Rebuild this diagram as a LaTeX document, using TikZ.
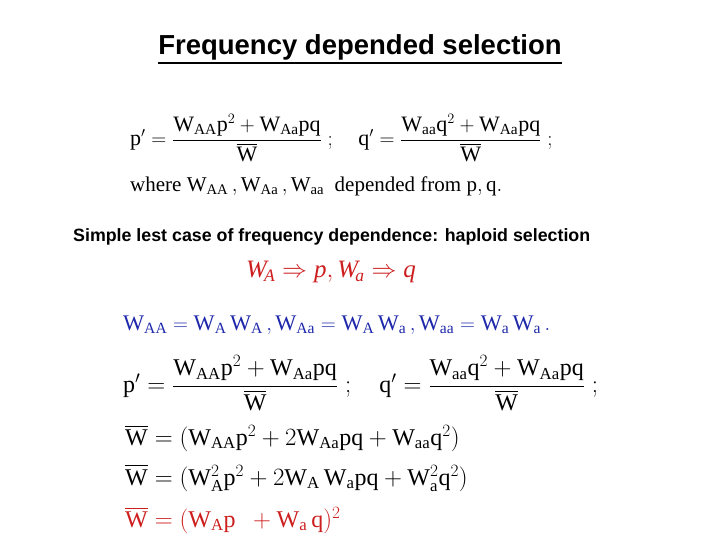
\documentclass[tikz,border=0pt]{standalone}
\usepackage{amsmath}
\usepackage{fontspec}
\setmainfont{Liberation Serif}
\newfontfamily\arial{Liberation Sans}
\definecolor{eqblue}{RGB}{30,40,170}
\definecolor{eqred}{RGB}{205,30,30}
\newcommand{\Wb}{\overline{\mathrm{W}}}
\newcommand{\Ws}[1]{\mathrm{W}_{\mathrm{#1}}}
\begin{document}
\begin{tikzpicture}[x=1pt,y=-1pt,
  eq/.style={anchor=west,inner sep=0pt,font=\fontsize{24}{28}\selectfont},
  head/.style={inner sep=0pt,font=\arial\bfseries\fontsize{27.5}{31}\selectfont}]
\useasboundingbox[fill=white] (0,0) rectangle (720,540);
\node[head] (title) at (360,47) {Frequency depended selection};
\draw[line width=1.6pt] ([yshift=-3pt]title.south west) -- ([yshift=-3pt]title.south east);
\node[eq,font=\fontsize{22}{26}\selectfont] (e1) at (130,138) {$\mathrm{p}'=\dfrac{\Ws{AA}\mathrm{p}^2+\Ws{Aa}\mathrm{pq}}{\Wb}\;;\quad \mathrm{q}'=\dfrac{\Ws{aa}\mathrm{q}^2+\Ws{Aa}\mathrm{pq}}{\Wb}\;;$};
\node[eq,font=\fontsize{21}{26}\selectfont] (e2) at (130,186) {where $\Ws{AA}\,,\Ws{Aa}\,,\Ws{aa}$\ \ depended from $\mathrm{p},\mathrm{q}.$};
\node[anchor=west,inner sep=0pt,font=\arial\bfseries\fontsize{17.8}{20}\selectfont] (sub) at (73,237) {Simple lest case of frequency dependence: haploid selection};
\node[eq,anchor=center,text=eqred,font=\fontsize{25}{28}\selectfont] (e3) at (331,272) {$\mathit{W}_{\!\mathit{A}}\Rightarrow \mathit{p}, \mathit{W}_{\!\mathit{a}}\Rightarrow \mathit{q}$};
\node[eq,text=eqblue,font=\fontsize{22.3}{27}\selectfont] (e4) at (123,325) {$\Ws{AA}=\Ws{A}\,\Ws{A}\,,\Ws{Aa}=\Ws{A}\,\Ws{a}\,,\Ws{aa}=\Ws{a}\,\Ws{a}\,.$};
\node[eq] (e5) at (123,383) {$\mathrm{p}'=\dfrac{\Ws{AA}\mathrm{p}^2+\Ws{Aa}\mathrm{pq}}{\Wb}\;;\quad \mathrm{q}'=\dfrac{\Ws{aa}\mathrm{q}^2+\Ws{Aa}\mathrm{pq}}{\Wb}\;;$};
\node[eq] (e6) at (125,438) {$\Wb=(\Ws{AA}\mathrm{p}^2+2\Ws{Aa}\mathrm{pq}+\Ws{aa}\mathrm{q}^2)$};
\node[eq] (e7) at (125,478) {$\Wb=(\mathrm{W}_{\mathrm{A}}^2\mathrm{p}^2+2\Ws{A}\,\Ws{a}\mathrm{pq}+\mathrm{W}_{\mathrm{a}}^2\mathrm{q}^2)$};
\node[eq,text=eqred] (e8) at (125,520) {$\Wb=(\Ws{A}\mathrm{p}\ \ +\Ws{a}\,\mathrm{q})^2$};
\end{tikzpicture}
\end{document}
